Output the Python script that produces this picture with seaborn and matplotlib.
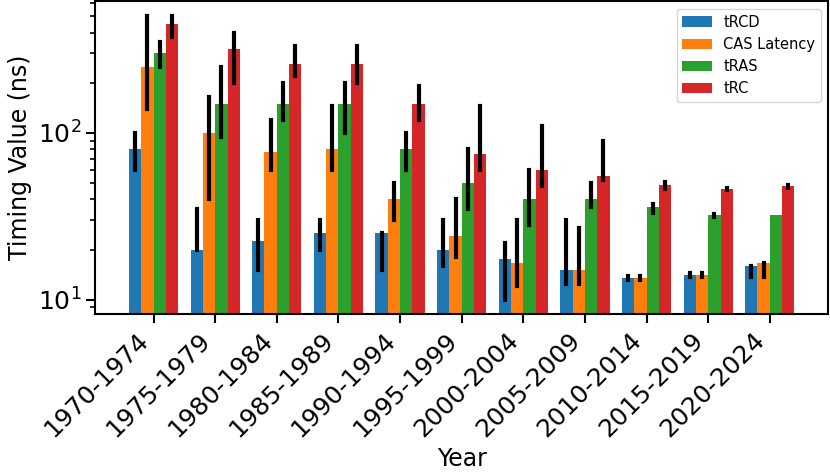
import matplotlib
matplotlib.use("Agg")
import matplotlib.pyplot as plt
import pandas as pd
import seaborn as sns

# Data (values in ns, error bars as lower/upper)
years = ["1970-1974", "1975-1979", "1980-1984", "1985-1989", "1990-1994",
         "1995-1999", "2000-2004", "2005-2009", "2010-2014", "2015-2019",
         "2020-2024"]
metrics = ["tRCD", "CAS Latency", "tRAS", "tRC"]

trcd = [80, 20, 22.5, 25, 25, 20, 17.5, 15, 13.5, 14, 16]
trcd_lo = [60, 20, 15, 20, 15, 16, 10, 12.5, 13.2, 13.6, 13.7]
trcd_hi = [100, 35, 30, 30, 25, 30, 22, 30, 13.8, 14.4, 16]

cas = [250, 100, 77, 80, 40, 24, 16.5, 15, 13.5, 14, 16.6]
cas_lo = [140, 40, 60, 60, 30, 18, 12, 12.5, 13.2, 13.6, 13.7]
cas_hi = [500, 165, 120, 145, 50, 40, 30, 27, 13.8, 14.4, 16.6]

tras = [300, 150, 150, 150, 80, 50, 40, 40, 36, 32, 32]
tras_lo = [250, 95, 120, 100, 60, 35, 28, 36, 33, 31.5, 32]
tras_hi = [350, 250, 200, 200, 100, 80, 60, 50, 37.5, 32.5, 32]

trc = [450, 320, 260, 260, 150, 75, 60, 55, 49, 46, 48]
trc_lo = [375, 200, 220, 200, 120, 60, 48, 52, 46, 45.5, 47]
trc_hi = [500, 400, 330, 330, 190, 145, 110, 90, 51, 46.5, 48.5]

series = {
    "tRCD": (trcd, trcd_lo, trcd_hi),
    "CAS Latency": (cas, cas_lo, cas_hi),
    "tRAS": (tras, tras_lo, tras_hi),
    "tRC": (trc, trc_lo, trc_hi),
}

# long table: low / value / high per group, median gives the bar, min-max the error bar
rows = []
for name, (vals, los, his) in series.items():
    for yr, v, lo, hi in zip(years, vals, los, his):
        for x in (lo, v, hi):
            rows.append({"Year": yr, "Metric": name, "Value": x})
df = pd.DataFrame(rows)

fig, ax = plt.subplots(figsize=(8.3, 4.73), dpi=100)
sns.barplot(data=df, x="Year", y="Value", hue="Metric", order=years,
            hue_order=metrics, estimator="median", errorbar=("pi", 100),
            err_kws={"color": "black", "linewidth": 3}, palette="tab10",
            saturation=1, width=0.8, ax=ax)
ax.set_yscale("log")

ax.set_xlim(-0.95, 10.95)
ax.set_ylim(8.2, 615)
ax.set_xlabel("Year", fontsize=17)
ax.set_ylabel("Timing Value (ns)", fontsize=17)
ax.tick_params(axis="both", which="major", labelsize=18, length=6.5, width=1.5)
ax.tick_params(axis="y", which="minor", length=3.5, width=1.2)
plt.setp(ax.get_xticklabels(), rotation=45, ha="right")
for sp in ax.spines.values():
    sp.set_linewidth(1.5)

sns.move_legend(ax, "upper right", title=None, fontsize=10.5)

fig.subplots_adjust(left=0.1145, right=0.998, bottom=0.336, top=0.997)
fig.savefig("out.png")
